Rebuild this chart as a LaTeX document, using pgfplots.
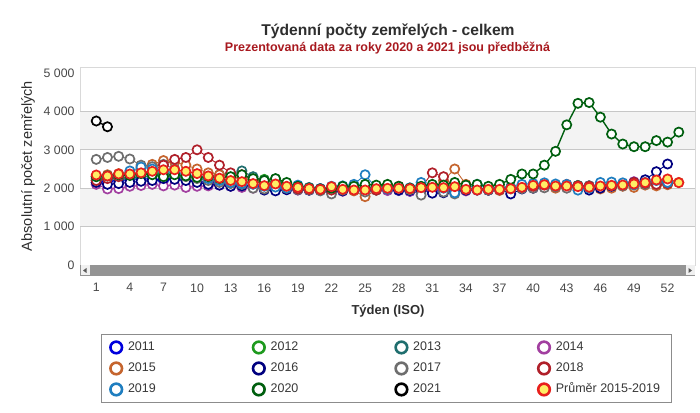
\documentclass[border=0pt]{standalone}
\usepackage{fontspec}
\setmainfont{Liberation Sans}
\usepackage{pgfplots}
\usepackage{pgfplotstable}
\pgfplotsset{compat=1.18}

\definecolor{c2011}{HTML}{0000DD}
\definecolor{c2012}{HTML}{1E9A1E}
\definecolor{c2013}{HTML}{1F6E6E}
\definecolor{c2014}{HTML}{A23FA0}
\definecolor{c2015}{HTML}{C5652E}
\definecolor{c2016}{HTML}{00007F}
\definecolor{c2017}{HTML}{6E6E6E}
\definecolor{c2018}{HTML}{B0202A}
\definecolor{c2019}{HTML}{1F7EC0}
\definecolor{c2020}{HTML}{005F0F}
\definecolor{c2021}{HTML}{000000}
\definecolor{cavgd}{HTML}{E8201C}
\definecolor{cavgf}{HTML}{FFEE66}
\definecolor{subred}{HTML}{A8191F}
\definecolor{band}{HTML}{F3F3F3}

\tikzset{yr/.style={color=#1, mark=*, mark size=4.6pt, line width=0.9pt,
  mark options={fill=white, line width=1.7pt}}}
\newcommand{\legtxt}[1]{\hspace{4pt}\makebox[123pt][l]{#1}}
\newcommand{\legnat}[1]{\hspace{4pt}#1}

\pgfplotstableread{
w  y2011 y2012 y2013 y2014 y2015 y2016 y2017 y2018 y2019 y2020 avg
1  2150 2250 2200 2100 2300 2150 2750 2200 2300 2300 2344
2  2180 2260 2250 1980 2350 2100 2800 2250 2320 2320 2318
3  2200 2250 2280 1990 2380 2120 2830 2300 2350 2350 2370
4  2220 2280 2260 2050 2400 2150 2760 2350 2450 2330 2370
5  2250 2350 2300 2070 2550 2180 2600 2400 2550 2380 2400
6  2230 2400 2320 2100 2620 2200 2560 2450 2500 2350 2440
7  2200 2380 2350 2060 2720 2250 2620 2600 2450 2300 2480
8  2250 2330 2300 2080 2680 2230 2500 2750 2400 2350 2480
9  2230 2300 2280 2020 2600 2200 2300 2800 2350 2320 2440
10 2180 2250 2300 2050 2500 2150 2250 3000 2300 2280 2380
11 2150 2220 2310 2060 2400 2100 2200 2800 2250 2300 2320
12 2120 2200 2350 2080 2350 2080 2150 2600 2200 2250 2260
13 2100 2180 2380 2050 2300 2050 2120 2400 2150 2300 2200
14 2080 2150 2450 2020 2250 2060 2100 2350 2120 2350 2170
15 2050 2180 2300 2000 2200 2050 2000 2200 2100 2250 2120
16 2000 2230 2200 1980 2150 1950 1980 2100 2050 2200 2066
17 1980 2240 2150 1990 2100 1930 2050 2050 2030 2250 2110
18 2000 2100 2100 1970 2050 1960 2000 2000 2000 2150 2050
19 1970 2050 2050 1950 2000 1960 1960 1980 2080 2050 2020
20 1950 2000 2020 1960 1970 1950 1950 1970 2000 2000 1990
21 1980 1980 1980 1990 1950 1940 1930 1960 1990 1980 1970
22 1960 2000 1990 1930 2000 1920 1850 1950 2050 2000 2040
23 1950 2020 2000 1920 1960 1930 1950 1980 2060 2050 1970
24 1940 2010 2010 1950 1930 1970 1980 2000 2100 2050 1953
25 1930 1990 2040 1960 1780 1950 1900 1990 2350 2100 1953
26 1960 2050 1980 1980 1950 1960 1950 1950 2000 2080 1988
27 1950 2070 1960 1940 2000 1980 1980 2000 1980 2100 1997
28 1940 2030 1950 1950 1980 1950 2000 2050 2030 2050 1997
29 1920 1960 1980 1920 1960 1940 1960 1990 2010 2000 1988
30 1950 1950 2000 1930 1990 1960 1820 2020 2150 2050 2014
31 1930 2000 2010 1960 2050 1870 2050 2400 2050 2100 2023
32 1960 2020 1990 1950 2200 1880 1900 2300 2000 2080 2014
33 1950 2080 1960 1940 2500 1900 1850 2000 1880 2150 2040
34 1940 2000 1940 1930 2100 1950 1970 1980 2000 2080 1970
35 1960 1980 1950 1950 1980 1960 1960 1970 2100 2100 1953
36 1950 1960 1970 1960 1950 1950 1950 1990 1970 2050 1970
37 1970 2000 1980 1980 1940 1970 1960 1960 1980 2100 1970
38 1990 2020 2000 1990 1970 1850 1980 2000 2020 2230 1988
39 2000 2010 2010 2000 1990 1980 1990 2030 2100 2370 2023
40 2030 2050 2030 2010 2010 2000 2000 2050 2120 2370 2075
41 2050 2060 2050 2020 2030 2050 2010 2080 2140 2600 2092
42 2060 2040 2040 2030 2000 2070 2030 2070 2110 2960 2057
43 2080 2030 2060 2010 2020 2060 2000 2100 2100 3650 2057
44 2070 2070 2030 2040 2010 2050 2050 2060 1950 4210 2040
45 2060 2060 2050 2050 1990 1950 2060 2050 2000 4230 2023
46 2050 2080 2070 2060 1980 2000 2080 2080 2150 3850 2057
47 2080 2100 2060 2080 2000 2050 2070 2070 2160 3410 2075
48 2100 2080 2080 2100 2050 2080 2060 2100 2140 3150 2083
49 2090 2120 2090 2170 2020 2150 2080 2150 2100 3080 2110
50 2100 2150 2100 2150 2080 2220 2100 2130 2150 3080 2144
51 2120 2140 2120 2120 2060 2430 2150 2100 2200 3240 2214
52 2150 2180 2110 2130 2090 2630 2200 2120 2150 3200 2240
53 nan  nan  nan  nan  2150 nan  nan  nan  nan  3460 2144
}\deaths

\pgfplotstableread{
w v
1 3750
2 3600
}\dtwentyone

\begin{document}
\begin{tikzpicture}[x=1pt,y=1pt]
\path[use as bounding box] (0,0) rectangle (700,412);

\node[font=\bfseries\fontsize{15.6}{18}\selectfont, text=black!82] at (388,381) {Týdenní počty zemřelých - celkem};
\node[font=\bfseries\fontsize{12.5}{15}\selectfont, text=subred] at (387.5,364) {Prezentovaná data za roky 2020 a 2021 jsou předběžná};
\node[rotate=90, font=\fontsize{14.5}{17}\selectfont, text=black!82] at (28,246) {Absolutní počet zemřelých};
\node[font=\bfseries\fontsize{13}{15}\selectfont, text=black!82] at (388,101) {Týden (ISO)};

\begin{axis}[
  at={(80pt,147pt)}, anchor=south west,
  scale only axis, width=615pt, height=198pt,
  xmin=-0.45, xmax=54.45, ymin=0, ymax=5156,
  axis line style={draw=black!15, line width=0.8pt},
  major tick length=0pt,
  xtick={1,4,...,52},
  ytick={0,1000,2000,3000,4000,5000},
  yticklabels={0,1 000,2 000,3 000,4 000,5 000},
  /pgf/number format/assume math mode=true,
  tick label style={font=\fontsize{12.3}{14}\selectfont, text=black!72},
  xticklabel style={yshift=-15pt},
  yticklabel style={xshift=-2pt},
  legend columns=4,
  legend cell align=left,
  legend style={at={(axis description cs:0.0341,-0.3485)}, anchor=north west,
    draw=black!45, line width=0.9pt, inner xsep=9pt, inner ysep=2.5pt,
    font=\fontsize{12.5}{15}\selectfont, text=black!78,
    nodes={text height=9pt, text depth=3pt, inner ysep=4.5pt}},
  legend image code/.code={\draw[#1, only marks, mark size=5.8pt,
    /tikz/every mark/.append style={line width=2.6pt}] plot coordinates {(0pt,0pt)};},
]
\fill[band] (axis cs:-0.45,1000) rectangle (axis cs:54.45,2000);
\fill[band] (axis cs:-0.45,3000) rectangle (axis cs:54.45,4000);
\draw[black!22, line width=1pt] (axis cs:-0.45,1000) -- (axis cs:54.45,1000);
\draw[black!22, line width=1pt] (axis cs:-0.45,2000) -- (axis cs:54.45,2000);
\draw[black!22, line width=1pt] (axis cs:-0.45,3000) -- (axis cs:54.45,3000);
\draw[black!22, line width=1pt] (axis cs:-0.45,4000) -- (axis cs:54.45,4000);
\addplot[yr=c2011] table[x=w,y=y2011]{\deaths};
\addlegendentry{\legtxt{2011}}
\addplot[yr=c2012] table[x=w,y=y2012]{\deaths};
\addlegendentry{\legtxt{2012}}
\addplot[yr=c2013] table[x=w,y=y2013]{\deaths};
\addlegendentry{\legtxt{2013}}
\addplot[yr=c2014] table[x=w,y=y2014]{\deaths};
\addlegendentry{\legnat{2014}}
\addplot[yr=c2015] table[x=w,y=y2015]{\deaths};
\addlegendentry{\legtxt{2015}}
\addplot[yr=c2016] table[x=w,y=y2016]{\deaths};
\addlegendentry{\legtxt{2016}}
\addplot[yr=c2017] table[x=w,y=y2017]{\deaths};
\addlegendentry{\legtxt{2017}}
\addplot[yr=c2018] table[x=w,y=y2018]{\deaths};
\addlegendentry{\legnat{2018}}
\addplot[yr=c2019] table[x=w,y=y2019]{\deaths};
\addlegendentry{\legtxt{2019}}
\addplot[yr=c2020, line width=1.4pt] table[x=w,y=y2020]{\deaths};
\addlegendentry{\legtxt{2020}}
\addplot[yr=c2021, line width=1.4pt] table[x=w,y=v]{\dtwentyone};
\addlegendentry{\legtxt{2021}}
\addplot[color=cavgd, mark=*, mark size=4.6pt, line width=1.4pt,
  mark options={fill=cavgf, line width=1.7pt}] table[x=w,y=avg]{\deaths};
\addlegendentry{\legnat{Průměr 2015-2019}}
\end{axis}

% scrollbar under the plot area
\fill[black!42] (80,136) rectangle (695,147);
\fill[black!6] (80.5,136.5) rectangle (89.5,146.5);
\fill[black!65] (83,141.5) -- (86.5,144) -- (86.5,139) -- cycle;
\fill[black!6] (685.5,136.5) rectangle (694.5,146.5);
\fill[black!65] (692,141.5) -- (688.5,144) -- (688.5,139) -- cycle;
\end{tikzpicture}
\end{document}
